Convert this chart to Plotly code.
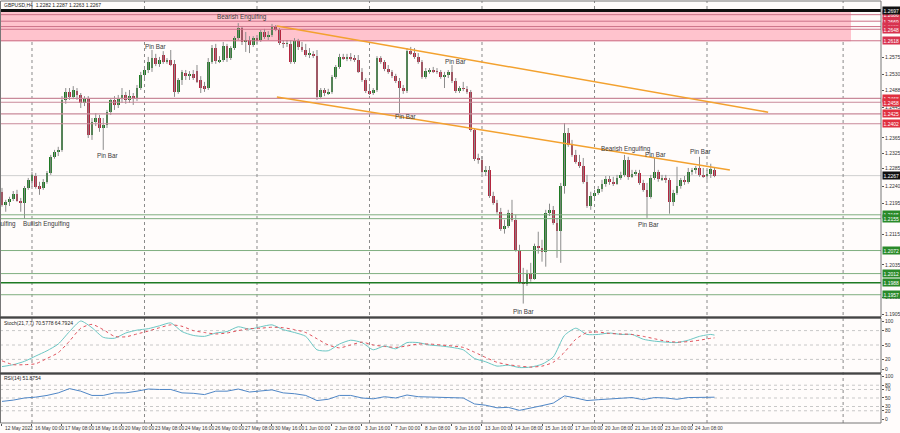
import plotly.graph_objects as go

W, H = 900, 433

# ---------------- data ----------------
time_labels = ["12 May 2022", "16 May 00:00", "17 May 08:00", "18 May 16:00", "20 May 00:00",
               "23 May 08:00", "24 May 16:00", "26 May 00:00", "27 May 08:00", "30 May 16:00",
               "1 Jun 00:00", "2 Jun 08:00", "3 Jun 16:00", "7 Jun 00:00", "8 Jun 08:00",
               "9 Jun 16:00", "13 Jun 00:00", "14 Jun 08:00", "15 Jun 16:00", "17 Jun 00:00",
               "20 Jun 08:00", "21 Jun 16:00", "23 Jun 00:00", "24 Jun 08:00"]
bars_per_label = 8

open_ = [1.2225, 1.2191, 1.2199, 1.2207, 1.2220, 1.2201, 1.2196, 1.2235, 1.2253, 1.2266,
         1.2240, 1.2235, 1.2251, 1.2274, 1.2316, 1.2329, 1.2334, 1.2464, 1.2485, 1.2472,
         1.2487, 1.2477, 1.2456, 1.2469, 1.2373, 1.2407, 1.2417, 1.2391, 1.2399, 1.2433,
         1.2464, 1.2451, 1.2469, 1.2477, 1.2464, 1.2474, 1.2466, 1.2495, 1.2529, 1.2542,
         1.2547, 1.2573, 1.2558, 1.2581, 1.2563, 1.2568, 1.2558, 1.2485, 1.2516, 1.2534,
         1.2526, 1.2532, 1.2539, 1.2516, 1.2500, 1.2495, 1.2563, 1.2599, 1.2565, 1.2568,
         1.2604, 1.2573, 1.2599, 1.2625, 1.2651, 1.2615, 1.2620, 1.2607, 1.2625, 1.2620,
         1.2641, 1.2628, 1.2633, 1.2654, 1.2646, 1.2612, 1.2610, 1.2610, 1.2563, 1.2617,
         1.2602, 1.2594, 1.2581, 1.2584, 1.2578, 1.2472, 1.2490, 1.2482, 1.2485, 1.2524,
         1.2550, 1.2576, 1.2573, 1.2576, 1.2571, 1.2568, 1.2537, 1.2516, 1.2487, 1.2482,
         1.2490, 1.2573, 1.2563, 1.2545, 1.2537, 1.2526, 1.2513, 1.2495, 1.2487, 1.2591,
         1.2586, 1.2576, 1.2563, 1.2524, 1.2539, 1.2542, 1.2539, 1.2537, 1.2524, 1.2529,
         1.2537, 1.2513, 1.2487, 1.2495, 1.2493, 1.2485, 1.2386, 1.2311, 1.2308, 1.2277,
         1.2282, 1.2214, 1.2196, 1.2173, 1.2129, 1.2136, 1.2170, 1.2152, 1.2074, 1.1991,
         1.1986, 1.2014, 1.1999, 1.2084, 1.2079, 1.2069, 1.2170, 1.2178, 1.2144, 1.2123,
         1.2240, 1.2378, 1.2347, 1.2321, 1.2303, 1.2292, 1.2251, 1.2188, 1.2214, 1.2222,
         1.2233, 1.2246, 1.2258, 1.2251, 1.2246, 1.2261, 1.2269, 1.2308, 1.2264, 1.2272,
         1.2274, 1.2248, 1.2230, 1.2212, 1.2261, 1.2277, 1.2258, 1.2261, 1.2256, 1.2199,
         1.2222, 1.2240, 1.2256, 1.2251, 1.2277, 1.2282, 1.2287, 1.2269, 1.2266, 1.2272,
         1.2282]
high = [1.2235, 1.2204, 1.2212, 1.2227, 1.2230, 1.2209, 1.2240, 1.2261, 1.2277, 1.2274,
        1.2251, 1.2258, 1.2279, 1.2321, 1.2334, 1.2342, 1.2474, 1.2495, 1.2495, 1.2500,
        1.2495, 1.2482, 1.2474, 1.2474, 1.2417, 1.2430, 1.2425, 1.2417, 1.2438, 1.2469,
        1.2474, 1.2477, 1.2495, 1.2485, 1.2490, 1.2482, 1.2503, 1.2537, 1.2552, 1.2576,
        1.2594, 1.2584, 1.2576, 1.2591, 1.2573, 1.2594, 1.2568, 1.2521, 1.2542, 1.2542,
        1.2539, 1.2542, 1.2555, 1.2526, 1.2511, 1.2573, 1.2607, 1.2610, 1.2578, 1.2615,
        1.2610, 1.2604, 1.2630, 1.2664, 1.2656, 1.2641, 1.2630, 1.2630, 1.2633, 1.2646,
        1.2649, 1.2643, 1.2662, 1.2659, 1.2651, 1.2620, 1.2620, 1.2620, 1.2625, 1.2623,
        1.2615, 1.2610, 1.2599, 1.2591, 1.2594, 1.2495, 1.2495, 1.2493, 1.2529, 1.2555,
        1.2584, 1.2584, 1.2584, 1.2586, 1.2581, 1.2581, 1.2547, 1.2521, 1.2500, 1.2495,
        1.2578, 1.2578, 1.2568, 1.2555, 1.2542, 1.2532, 1.2521, 1.2503, 1.2599, 1.2602,
        1.2599, 1.2586, 1.2568, 1.2547, 1.2547, 1.2550, 1.2547, 1.2542, 1.2537, 1.2542,
        1.2555, 1.2521, 1.2500, 1.2511, 1.2500, 1.2490, 1.2391, 1.2324, 1.2318, 1.2292,
        1.2292, 1.2225, 1.2204, 1.2183, 1.2152, 1.2178, 1.2204, 1.2165, 1.2087, 1.2027,
        1.2022, 1.2040, 1.2090, 1.2121, 1.2100, 1.2178, 1.2194, 1.2188, 1.2157, 1.2248,
        1.2404, 1.2391, 1.2360, 1.2334, 1.2321, 1.2313, 1.2269, 1.2225, 1.2230, 1.2240,
        1.2256, 1.2266, 1.2266, 1.2264, 1.2269, 1.2277, 1.2321, 1.2316, 1.2282, 1.2282,
        1.2282, 1.2256, 1.2248, 1.2269, 1.2313, 1.2282, 1.2269, 1.2269, 1.2261, 1.2230,
        1.2290, 1.2261, 1.2266, 1.2287, 1.2287, 1.2292, 1.2316, 1.2287, 1.2282, 1.2298,
        1.2287]
low = [1.2186, 1.2173, 1.2188, 1.2201, 1.2199, 1.2173, 1.2155, 1.2230, 1.2238, 1.2233,
       1.2217, 1.2230, 1.2246, 1.2269, 1.2311, 1.2318, 1.2329, 1.2454, 1.2464, 1.2466,
       1.2464, 1.2443, 1.2448, 1.2365, 1.2360, 1.2396, 1.2381, 1.2334, 1.2391, 1.2425,
       1.2438, 1.2443, 1.2456, 1.2454, 1.2456, 1.2451, 1.2461, 1.2490, 1.2516, 1.2534,
       1.2537, 1.2552, 1.2550, 1.2558, 1.2558, 1.2552, 1.2472, 1.2480, 1.2503, 1.2516,
       1.2516, 1.2516, 1.2508, 1.2482, 1.2485, 1.2490, 1.2558, 1.2558, 1.2560, 1.2563,
       1.2563, 1.2568, 1.2594, 1.2620, 1.2607, 1.2589, 1.2586, 1.2602, 1.2610, 1.2615,
       1.2623, 1.2620, 1.2628, 1.2643, 1.2607, 1.2599, 1.2602, 1.2558, 1.2558, 1.2594,
       1.2589, 1.2576, 1.2573, 1.2573, 1.2464, 1.2466, 1.2474, 1.2477, 1.2480, 1.2519,
       1.2545, 1.2568, 1.2565, 1.2565, 1.2563, 1.2534, 1.2511, 1.2482, 1.2477, 1.2477,
       1.2485, 1.2558, 1.2539, 1.2532, 1.2521, 1.2508, 1.2430, 1.2480, 1.2482, 1.2581,
       1.2571, 1.2558, 1.2519, 1.2519, 1.2532, 1.2534, 1.2532, 1.2519, 1.2495, 1.2521,
       1.2508, 1.2482, 1.2482, 1.2487, 1.2480, 1.2381, 1.2305, 1.2298, 1.2272, 1.2266,
       1.2209, 1.2191, 1.2168, 1.2123, 1.2116, 1.2131, 1.2147, 1.2069, 1.1986, 1.1934,
       1.1980, 1.1991, 1.1996, 1.2064, 1.2043, 1.2030, 1.2162, 1.2139, 1.2053, 1.2040,
       1.2220, 1.2342, 1.2316, 1.2298, 1.2287, 1.2246, 1.2183, 1.2178, 1.2209, 1.2217,
       1.2225, 1.2238, 1.2243, 1.2240, 1.2243, 1.2256, 1.2264, 1.2256, 1.2261, 1.2266,
       1.2243, 1.2225, 1.2157, 1.2207, 1.2256, 1.2251, 1.2253, 1.2248, 1.2168, 1.2188,
       1.2217, 1.2233, 1.2243, 1.2246, 1.2269, 1.2272, 1.2264, 1.2261, 1.2256, 1.2261,
       1.2263]
close = [1.2191, 1.2199, 1.2207, 1.2220, 1.2201, 1.2196, 1.2235, 1.2256, 1.2269, 1.2238,
         1.2233, 1.2251, 1.2274, 1.2316, 1.2329, 1.2334, 1.2464, 1.2485, 1.2472, 1.2490,
         1.2477, 1.2456, 1.2469, 1.2373, 1.2407, 1.2417, 1.2391, 1.2399, 1.2433, 1.2464,
         1.2451, 1.2469, 1.2477, 1.2464, 1.2474, 1.2466, 1.2495, 1.2529, 1.2542, 1.2563,
         1.2573, 1.2558, 1.2568, 1.2563, 1.2568, 1.2555, 1.2485, 1.2516, 1.2537, 1.2526,
         1.2532, 1.2521, 1.2511, 1.2495, 1.2495, 1.2563, 1.2599, 1.2565, 1.2568, 1.2604,
         1.2573, 1.2599, 1.2625, 1.2651, 1.2615, 1.2620, 1.2607, 1.2625, 1.2620, 1.2641,
         1.2628, 1.2633, 1.2654, 1.2646, 1.2612, 1.2610, 1.2612, 1.2563, 1.2617, 1.2602,
         1.2594, 1.2581, 1.2584, 1.2578, 1.2472, 1.2490, 1.2482, 1.2485, 1.2524, 1.2550,
         1.2576, 1.2573, 1.2576, 1.2571, 1.2568, 1.2537, 1.2516, 1.2487, 1.2482, 1.2490,
         1.2573, 1.2563, 1.2545, 1.2537, 1.2526, 1.2513, 1.2495, 1.2487, 1.2591, 1.2586,
         1.2576, 1.2563, 1.2524, 1.2539, 1.2542, 1.2539, 1.2537, 1.2524, 1.2529, 1.2537,
         1.2513, 1.2487, 1.2495, 1.2493, 1.2485, 1.2386, 1.2311, 1.2308, 1.2277, 1.2282,
         1.2214, 1.2196, 1.2173, 1.2129, 1.2136, 1.2170, 1.2152, 1.2074, 1.1991, 1.1986,
         1.2014, 1.1999, 1.2084, 1.2079, 1.2069, 1.2170, 1.2178, 1.2144, 1.2123, 1.2240,
         1.2378, 1.2347, 1.2321, 1.2303, 1.2292, 1.2251, 1.2188, 1.2214, 1.2222, 1.2233,
         1.2246, 1.2258, 1.2251, 1.2246, 1.2261, 1.2269, 1.2308, 1.2264, 1.2272, 1.2274,
         1.2248, 1.2230, 1.2212, 1.2261, 1.2277, 1.2258, 1.2261, 1.2256, 1.2199, 1.2222,
         1.2240, 1.2256, 1.2251, 1.2277, 1.2282, 1.2287, 1.2269, 1.2266, 1.2272, 1.2285,
         1.2267]

# indicator samples (one every 3 bars, plus the last bar)
ind_bars = list(range(0, 190, 3)) + [190]
stoch_main = [5, 9, 16, 27, 38, 52, 78, 100, 86, 66, 64, 75, 81, 84, 90, 96, 78, 70, 68, 75,
              78, 88, 83, 88, 92, 82, 76, 68, 40, 38, 52, 60, 55, 40, 48, 42, 55, 55, 50, 48,
              45, 40, 22, 15, 6, 8, 3, 4, 10, 25, 70, 85, 72, 72, 75, 72, 72, 62, 58, 56,
              55, 60, 68, 72, 70.5778]
stoch_signal = [17, 9, 9, 11, 22, 34, 58, 85, 93, 82, 68, 67, 73, 79, 86, 92, 89, 80, 76, 73,
                75, 80, 84, 85, 87, 86, 82, 76, 63, 50, 44, 50, 56, 50, 47, 45, 48, 52, 52, 50,
                48, 45, 35, 24, 14, 9, 6, 4, 6, 14, 35, 62, 76, 77, 74, 73, 72, 68, 63, 58,
                56, 57, 60, 64, 64.7924]
rsi = [42, 45, 50, 52, 56, 62, 72, 66, 56, 56, 62, 62, 66, 71, 70, 70, 62, 61, 58, 66,
       66, 71, 64, 67, 69, 62, 60, 56, 44, 47, 56, 56, 50, 48, 53, 50, 57, 53, 52, 51,
       50, 50, 36, 33, 27, 28, 21, 26, 32, 38, 55, 50, 44, 46, 48, 49, 51, 46, 51, 50,
       47, 51, 52, 53, 51.8754]

zone_low, zone_high = 1.2617, 1.2697
top_line = 1.2697
resist_lines = [1.2686, 1.2669, 1.2655, 1.2648, 1.2618]
resist_labels = ["1.2686", "1.2669", "1.2655", "1.2648", "1.2618"]
red_lines = [1.2468, 1.2458, 1.2428, 1.2402]
red_labels = ["1.2468", "1.2458", "1.2425", "1.2402"]
support_lines = [1.2165, 1.2155, 1.2072, 1.2012, 1.1988, 1.1957]
support_labels = ["1.2165", "1.2155", "1.2072", "1.2012", "1.1988", "1.1957"]

price_ticks = [1.2575, 1.2530, 1.2488, 1.2445, 1.2365, 1.2325, 1.2285, 1.2240,
               1.2195, 1.2115, 1.2035, 1.1950, 1.1905]
stoch_ticks = [100, 80, 50, 20, 0]
rsi_ticks = [100, 80, 70, 50, 30, 20, 0]

patterns = [("Bearish Engulfing", 64.1, 1.2680), ("Pin Bar", 41.0, 1.2602),
            ("Pin Bar", 28.1, 1.2319), ("Bullish Engulfing", 11.9, 1.2141),
            ("Bullish Engulfing", -2.5, 1.2141), ("Pin Bar", 107.5, 1.2420),
            ("Pin Bar", 120.9, 1.2563), ("Bearish Engulfing", 166.3, 1.2336),
            ("Pin Bar", 174.3, 1.2322), ("Pin Bar", 186.3, 1.2329),
            ("Pin Bar", 172.4, 1.2139), ("Pin Bar", 139.2, 1.1913)]

trendlines = [((73.3, 1.26565), (204.3, 1.24321)),
              ((73.3, 1.24717), (194.1, 1.22816))]
week_grid = [8, 38, 68, 98, 128, 158, 188, 224.3]

# ---------------- layout geometry ----------------
XR = [-0.53, 234.4]
xdom = [0, 881 / W]
main_dom = [116 / H, 432 / H]
stoch_dom = [60 / H, 115 / H]
rsi_dom = [10 / H, 59 / H]
main_range = [1.189901, 1.272156]
stoch_range = [-8.33, 106.25]
rsi_range = [-8.7, 106.3]

GREEN = "#1f7a24"
RED = "#b3263f"
WICK = "#8c8c8c"
BG = "#fffcfb"
FONT = "Liberation Sans, Arial, sans-serif"

n = len(close)
idx = list(range(n))

fig = go.Figure()

# wicks
wx, wy = [], []
for i in idx:
    wx += [i, i, None]
    wy += [low[i], high[i], None]
fig.add_trace(go.Scatter(x=wx, y=wy, mode="lines", line=dict(color=WICK, width=1),
                         hoverinfo="skip", showlegend=False, xaxis="x", yaxis="y"))
# bodies
fig.add_trace(go.Bar(x=idx, y=[max(abs(c - o), 0.00012) for o, c in zip(open_, close)],
                     base=[min(o, c) for o, c in zip(open_, close)],
                     marker=dict(color=[GREEN if c >= o else RED for o, c in zip(open_, close)],
                                 line=dict(width=0)),
                     width=0.72, showlegend=False, xaxis="x", yaxis="y"))

# stochastic
fig.add_trace(go.Scatter(x=ind_bars, y=stoch_main, mode="lines",
                         line=dict(color="#6cc7c4", width=1, shape="spline", smoothing=0.6),
                         showlegend=False, xaxis="x", yaxis="y2"))
fig.add_trace(go.Scatter(x=ind_bars, y=stoch_signal, mode="lines",
                         line=dict(color="#e0505a", width=1, dash="dot", shape="spline", smoothing=0.6),
                         showlegend=False, xaxis="x", yaxis="y2"))
# RSI
fig.add_trace(go.Scatter(x=ind_bars, y=rsi, mode="lines",
                         line=dict(color="#4f86c6", width=1),
                         showlegend=False, xaxis="x", yaxis="y3"))

shapes = []
# pink resistance zone
shapes.append(dict(type="rect", xref="x", yref="y", x0=-10, x1=226.4, y0=zone_low, y1=zone_high,
                   fillcolor="#ffc3cd", line=dict(width=0), layer="below"))


def hline(price, color, width, dash="solid", yref="y", layer="above"):
    return dict(type="line", xref="paper", yref=yref, x0=xdom[0], x1=xdom[1], y0=price, y1=price,
                line=dict(color=color, width=width, dash=dash), layer=layer)


for p in resist_lines:
    shapes.append(hline(p, "#cc7288", 1))
for p in red_lines:
    shapes.append(hline(p, "#c98a9a", 1.2))
for p in support_lines:
    shapes.append(hline(p, "#1e7a24" if p == 1.1988 else "#7fae7f", 1.6 if p == 1.1988 else 1))
shapes.append(hline(close[-1], "#cfcfcf", 1, layer="below"))
shapes.append(hline(top_line, "#111111", 3))

# trendlines
for (xa, ya), (xb, yb) in trendlines:
    shapes.append(dict(type="line", xref="x", yref="y", x0=xa, y0=ya, x1=xb, y1=yb,
                       line=dict(color="#f3a12e", width=1.5)))

# indicator levels
for lv in [80, 50, 20]:
    shapes.append(hline(lv, "#c8c8c8", 1, "dot", yref="y2", layer="below"))
for lv in [80, 70, 50, 30, 20]:
    shapes.append(hline(lv, "#c8c8c8", 1, "dot", yref="y3", layer="below"))

# vertical weekly grid
for g in week_grid:
    shapes.append(dict(type="line", xref="x", yref="paper", x0=g, x1=g, y0=rsi_dom[0], y1=main_dom[1],
                       line=dict(color="#8a8a8a", width=1, dash="dot"), layer="below"))

# panel frames
for dom, col in [(main_dom, "#777777"), (stoch_dom, "#777777"), (rsi_dom, "#777777")]:
    shapes.append(dict(type="rect", xref="paper", yref="paper", x0=0.5 / W, x1=xdom[1],
                       y0=dom[0], y1=dom[1], line=dict(color=col, width=1), fillcolor="rgba(0,0,0,0)"))
for yb in [main_dom[0] - 0.5 / H, stoch_dom[0] - 0.5 / H]:
    shapes.append(dict(type="line", xref="paper", yref="paper", x0=0, x1=xdom[1], y0=yb, y1=yb,
                       line=dict(color="#444444", width=2)))

annotations = []
# header / indicator captions
annotations.append(dict(xref="paper", yref="paper", x=2 / W, y=1 - 5 / H, xanchor="left", yanchor="middle",
                        text="GBPUSD,H4  %.4f %.4f %.4f %.4f" % (open_[-1], high[-1], low[-1], close[-1]),
                        showarrow=False, font=dict(size=5, color="#222", family=FONT)))
annotations.append(dict(xref="paper", yref="paper", x=2 / W, y=stoch_dom[1] - 5 / H, xanchor="left",
                        yanchor="middle", showarrow=False,
                        text="Stoch(21,7,7) %.4f %.4f" % (stoch_main[-1], stoch_signal[-1]),
                        font=dict(size=5, color="#222", family=FONT)))
annotations.append(dict(xref="paper", yref="paper", x=2 / W, y=rsi_dom[1] - 4 / H, xanchor="left",
                        yanchor="middle", showarrow=False, text="RSI(14) %.4f" % rsi[-1],
                        font=dict(size=5, color="#222", family=FONT)))

# pattern labels
for text, bx, py in patterns:
    if bx < XR[0]:
        annotations.append(dict(xref="paper", yref="y", x=(2 + 3.75 * bx) / W, y=py, text=text,
                                showarrow=False, xanchor="center", yanchor="middle",
                                font=dict(size=6.3, color="#3a3a3a", family=FONT)))
    else:
        annotations.append(dict(xref="x", yref="y", x=bx, y=py, text=text, showarrow=False,
                                xanchor="center", yanchor="middle",
                                font=dict(size=6.3, color="#3a3a3a", family=FONT)))

# time labels
for k, t in enumerate(time_labels):
    annotations.append(dict(xref="x", yref="paper", x=k * bars_per_label, y=4.5 / H, text=t,
                            showarrow=False, xanchor="left", yanchor="middle", xshift=1,
                            font=dict(size=4.8, color="#333", family=FONT)))


def axis_label(price, text, bg):
    return dict(xref="paper", yref="y", x=881.5 / W, y=price, text=text, showarrow=False,
                xanchor="left", yanchor="middle", bgcolor=bg, borderpad=0.6,
                font=dict(size=5, color="white", family=FONT))


for p, t in zip(resist_lines, resist_labels):
    annotations.append(axis_label(p, t, "#d8334f"))
for p, t in zip(red_lines, red_labels):
    annotations.append(axis_label(p, t, "#e0303f"))
for p, t in zip(support_lines, support_labels):
    annotations.append(axis_label(p, t, "#2a8a2a"))
annotations.append(axis_label(top_line, "%.4f" % top_line, "#111111"))
annotations.append(axis_label(close[-1], "%.4f" % close[-1], "#111111"))

tickfont = dict(size=5, color="#333", family=FONT)
fig.update_layout(
    width=W, height=H, margin=dict(l=0, r=0, t=0, b=0),
    paper_bgcolor=BG, plot_bgcolor=BG, bargap=0, showlegend=False,
    xaxis=dict(domain=xdom, range=XR, anchor="y3", showgrid=False, zeroline=False,
               showticklabels=False, ticks="outside", ticklen=2, tickcolor="#555",
               tickvals=[k * bars_per_label for k in range(len(time_labels))], showline=False,
               fixedrange=True),
    yaxis=dict(domain=main_dom, range=main_range, side="right", anchor="x", showgrid=False,
               zeroline=False, tickvals=price_ticks, ticktext=["%.4f" % v for v in price_ticks],
               ticks="outside", ticklen=2, tickcolor="#555", tickfont=tickfont, showline=False,
               automargin=False),
    yaxis2=dict(domain=stoch_dom, range=stoch_range, side="right", anchor="x", showgrid=False,
                zeroline=False, tickvals=stoch_ticks, ticks="outside", ticklen=2, tickcolor="#555",
                tickfont=tickfont, automargin=False),
    yaxis3=dict(domain=rsi_dom, range=rsi_range, side="right", anchor="x", showgrid=False,
                zeroline=False, tickvals=rsi_ticks, ticks="outside", ticklen=2, tickcolor="#555",
                tickfont=tickfont, automargin=False),
    shapes=shapes, annotations=annotations,
)

fig.write_html("out.html", config={"displayModeBar": False},
               post_script="document.body.style.margin='0';document.body.style.padding='0';"
                           "document.body.style.overflow='hidden';")
